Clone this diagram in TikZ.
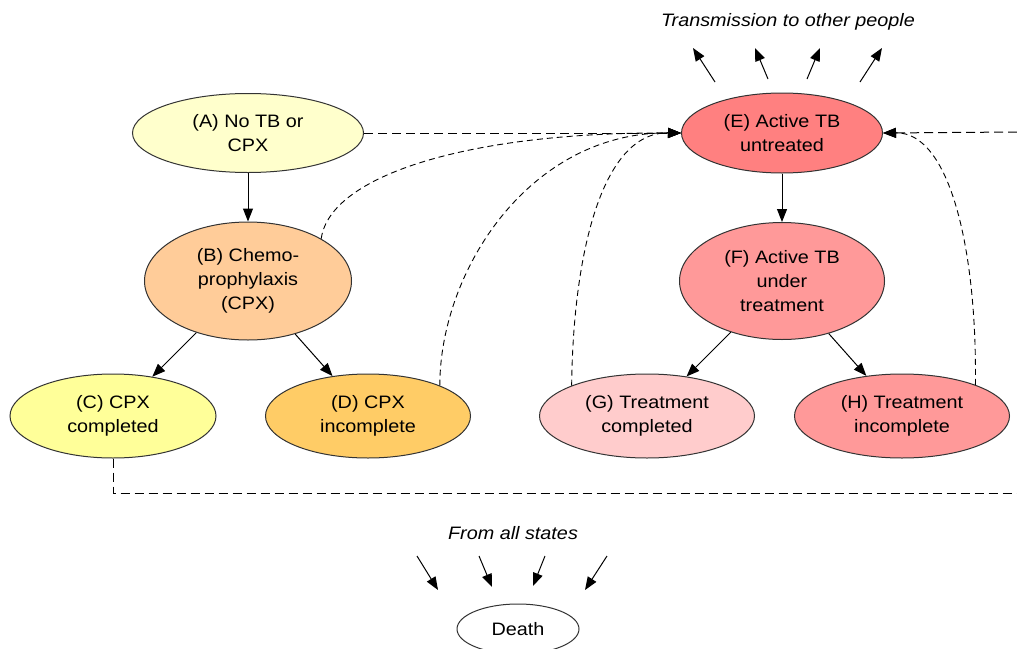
\documentclass[tikz,border=0pt]{standalone}
\usepackage{fontspec}
\setmainfont[FakeStretch=1.1]{Liberation Sans}
\usetikzlibrary{shapes.geometric,arrows.meta}
\definecolor{cA}{HTML}{FFFFCC}
\definecolor{cB}{HTML}{FFCC99}
\definecolor{cC}{HTML}{FFFF99}
\definecolor{cD}{HTML}{FFCC66}
\definecolor{cE}{HTML}{FF8080}
\definecolor{cF}{HTML}{FF9999}
\definecolor{cG}{HTML}{FFCCCC}
\definecolor{cH}{HTML}{FF9999}
\definecolor{edge}{HTML}{333333}
\tikzset{
  state/.style={ellipse, draw=edge, line width=1pt, inner sep=0pt, align=center,
    font=\fontsize{18}{24}\selectfont},
  solidarr/.style={line width=1pt, -{Triangle[length=13pt,width=10pt]}},
  dasharr/.style={line width=1pt, dash pattern=on 9pt off 5pt, -{Triangle[length=13pt,width=10pt]}},
  curvearr/.style={line width=0.9pt, dash pattern=on 6pt off 4pt, -{Triangle[length=13pt,width=10pt]}},
  dashline/.style={line width=1pt, dash pattern=on 9pt off 5pt},
  note/.style={font=\fontsize{18}{22}\selectfont\itshape, inner sep=0pt},
}
\begin{document}
\begin{tikzpicture}[x=1pt,y=-1pt]
\useasboundingbox (0,0) rectangle (1017,648);
\fill[white] (0,0) rectangle (1017,648);
\clip (0,0) rectangle (1017,648);

\node[state, fill=cA, minimum width=231pt, minimum height=79pt] (A) at (248,133) {(A) No TB or\\CPX};
\node[state, fill=cB, minimum width=207pt, minimum height=118pt] (B) at (248,281) {(B) Chemo-\\prophylaxis\\(CPX)};
\node[state, fill=cC, minimum width=206pt, minimum height=84pt] (C) at (113,416) {(C) CPX\\completed};
\node[state, fill=cD, minimum width=205pt, minimum height=84pt] (D) at (368,416) {(D) CPX\\incomplete};
\node[state, fill=cE, minimum width=201pt, minimum height=80pt] (E) at (782,133) {(E) Active TB\\untreated};
\node[state, fill=cF, minimum width=205pt, minimum height=117pt] (F) at (782,281) {(F) Active TB\\under\\treatment};
\node[state, fill=cG, minimum width=215pt, minimum height=84pt] (G) at (647,416) {(G) Treatment\\completed};
\node[state, fill=cH, minimum width=215pt, minimum height=84pt] (H) at (902,416) {(H) Treatment\\incomplete};
\node[state, fill=white, minimum width=122pt, minimum height=50pt] (Dth) at (518,629) {Death};

\node[note] (trans) at (788,22) {Transmission to other people};
\node[note] (from) at (513,533) {From all states};

% solid transitions
\draw[solidarr] (A) -- (B);
\draw[solidarr] (B) -- (C);
\draw[solidarr] (B) -- (D);
\draw[solidarr] (E) -- (F);
\draw[solidarr] (F) -- (G);
\draw[solidarr] (F) -- (H);

% dashed transitions into E
\draw[dasharr] (A.east) -- (E.west);
\coordinate (eR) at (1017,132);
\draw[dasharr] (eR) -- (E.east);
\draw[curvearr] (B.30) .. controls (330,175) and (470,132) .. (E.west);
\draw[curvearr] (D.23) .. controls (440,270) and (530,132) .. (E.west);
\draw[curvearr] (G.158) .. controls (573,260) and (600,132) .. (E.west);
\draw[curvearr] (H.23) .. controls (977,250) and (950,132) .. (E.east);

% C loop
\coordinate (cc) at (113,493);
\coordinate (cR) at (1017,493);
\draw[dashline] (C.south) -- (cc) -- (cR);

% transmission arrows
\coordinate (t1a) at (715,82); \coordinate (t1b) at (693,48);
\coordinate (t2a) at (768,79); \coordinate (t2b) at (755,48);
\coordinate (t3a) at (807,79); \coordinate (t3b) at (820,48);
\coordinate (t4a) at (860,82); \coordinate (t4b) at (882,48);
\draw[solidarr] (t1a) -- (t1b);
\draw[solidarr] (t2a) -- (t2b);
\draw[solidarr] (t3a) -- (t3b);
\draw[solidarr] (t4a) -- (t4b);

% death arrows
\coordinate (d1a) at (417,556); \coordinate (d1b) at (438,590);
\coordinate (d2a) at (479,556); \coordinate (d2b) at (492,587);
\coordinate (d3a) at (545,556); \coordinate (d3b) at (533,586);
\coordinate (d4a) at (607,556); \coordinate (d4b) at (585,590);
\draw[solidarr] (d1a) -- (d1b);
\draw[solidarr] (d2a) -- (d2b);
\draw[solidarr] (d3a) -- (d3b);
\draw[solidarr] (d4a) -- (d4b);
\end{tikzpicture}
\end{document}
